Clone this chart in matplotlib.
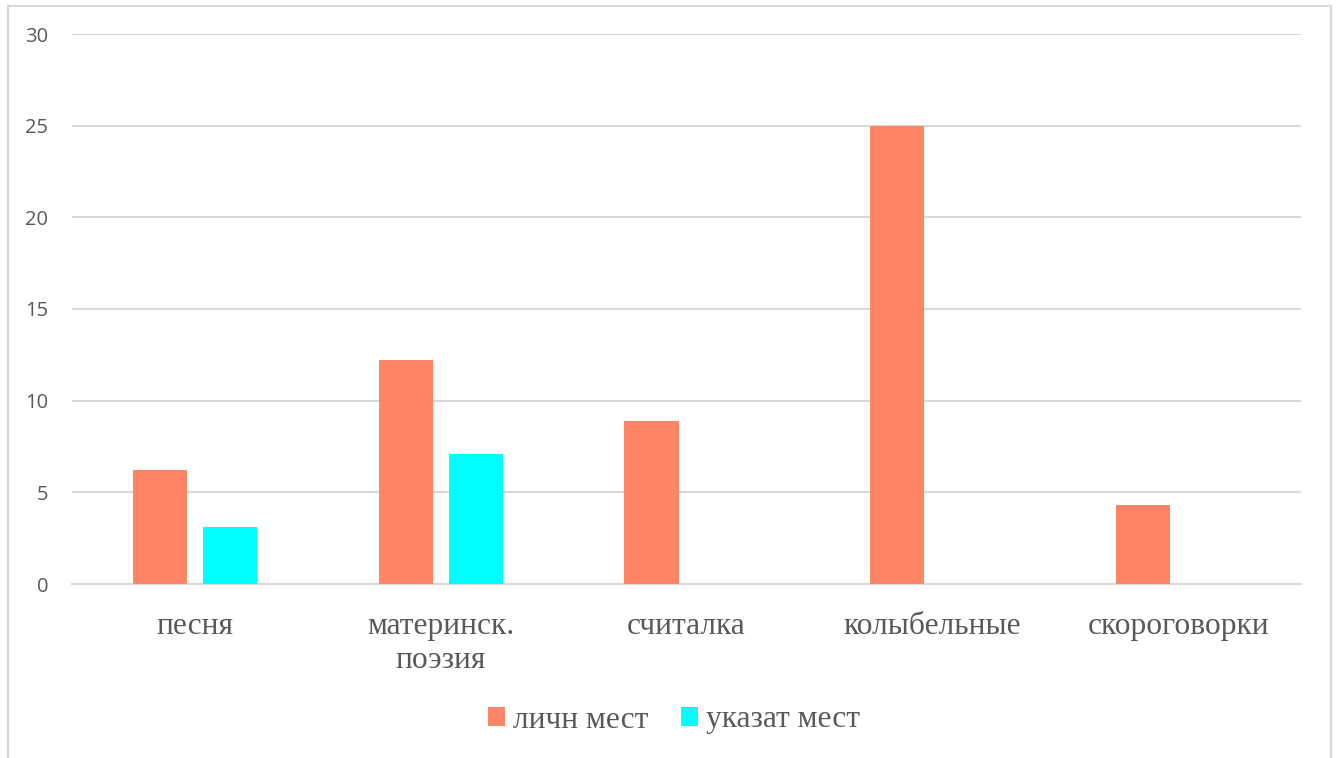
import matplotlib
matplotlib.use("Agg")
import matplotlib.pyplot as plt
import numpy as np
from matplotlib.patches import Rectangle

categories = ["песня", "материнск.\nпоэзия", "считалка", "колыбельные", "скороговорки"]
series_names = ["личн мест", "указат мест"]
lichn = [6.2, 12.2, 8.9, 25.0, 4.3]
ukazat = [3.1, 7.1, 0, 0, 0]
colors = ["#FF8566", "#00FFFF"]

W, H = 1339, 758
fig = plt.figure(figsize=(W / 100, H / 100), dpi=100)
fig.patch.set_facecolor("white")

# outer frame
fig.patches.append(Rectangle((8 / W, -0.05), (1331 - 8) / W, 1.05 - 6 / H,
                             transform=fig.transFigure, fill=False,
                             edgecolor="#d9d9d9", linewidth=1.5))

ax = fig.add_axes([72 / W, 1 - 584 / H, (1301 - 72) / W, (584 - 34) / H])
x = np.arange(len(categories))
width = 0.22
off = 0.1424
ax.bar(x - off, lichn, width, color=colors[0], label=series_names[0], zorder=3)
ax.bar(x + off, ukazat, width, color=colors[1], label=series_names[1], zorder=3)

ax.set_xlim(-0.5, len(categories) - 0.5)
ax.set_ylim(0, 30)
ax.set_yticks([0, 5, 10, 15, 20, 25, 30])
ax.yaxis.grid(True, color="#d9d9d9", linewidth=1.5, zorder=0)
ax.set_axisbelow(True)
for s in ["top", "right", "left"]:
    ax.spines[s].set_visible(False)
ax.spines["bottom"].set_color("#d9d9d9")
ax.spines["bottom"].set_linewidth(1.5)
ax.tick_params(axis="both", length=0)
ax.tick_params(axis="y", pad=17, labelsize=14.5, labelcolor="#595959")
for t in ax.get_yticklabels():
    t.set_fontfamily("Open Sans")
ax.set_xticks(x)
ax.set_xticklabels(categories, fontfamily="Liberation Serif", fontsize=22.7,
                   color="#595959", linespacing=1.25)
ax.tick_params(axis="x", pad=20)

leg = fig.legend(loc="center", bbox_to_anchor=(674 / W, 1 - 720 / H), ncol=2,
                 frameon=False, prop={"family": "Liberation Serif", "size": 22.7},
                 handlelength=0.52, handleheight=0.52, handletextpad=0.25,
                 columnspacing=1.05, labelcolor="#595959")

fig.savefig("out.png", dpi=100, facecolor="white")
